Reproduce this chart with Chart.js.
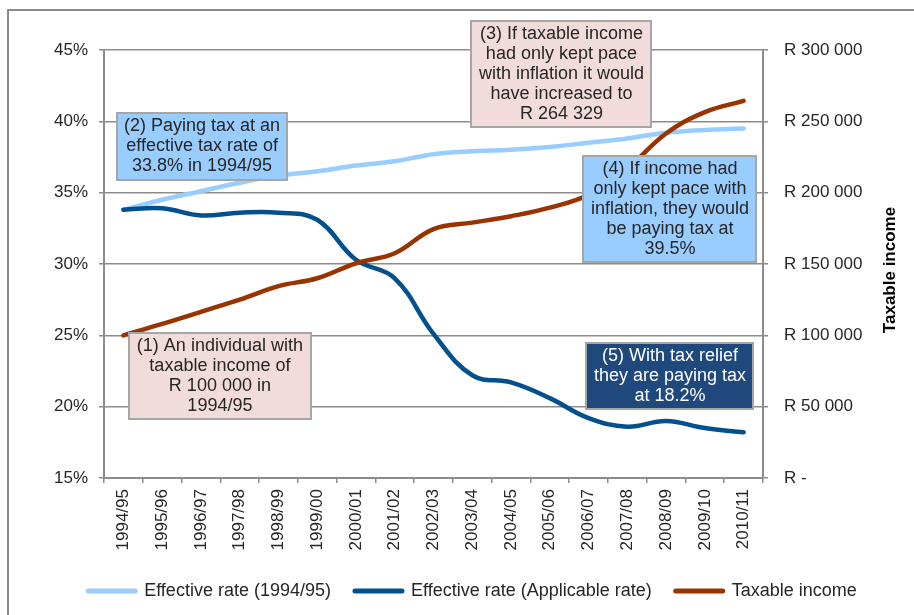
<!DOCTYPE html>
<html>
<head>
<meta charset="utf-8">
<script src="https://cdn.jsdelivr.net/npm/chart.js@4.4.1/dist/chart.umd.min.js"></script>
<style>
  html, body { margin: 0; padding: 0; background: #fff; overflow: hidden; }
  #wrap { position: relative; width: 914px; height: 615px; }
  #frame { position: absolute; left: 7px; top: 9px; width: 1000px; height: 700px; border: 2px solid #8c8c8c; }
  #chart { position: absolute; left: 0; top: 0; }
</style>
</head>
<body>
<div id="wrap">
  <div id="frame"></div>
  <canvas id="chart" width="914" height="615"></canvas>
</div>
<script>
const years = ['1994/95', '1995/96', '1996/97', '1997/98', '1998/99', '1999/00', '2000/01', '2001/02',
    '2002/03', '2003/04', '2004/05', '2005/06', '2006/07', '2007/08', '2008/09', '2009/10', '2010/11'];

const rateBase = [33.8, 34.5, 35.1, 35.7, 36.2, 36.5, 36.9, 37.2, 37.7, 37.9, 38.0, 38.2, 38.5, 38.8, 39.2, 39.4, 39.5];
const rateApplicable = [33.8, 33.9, 33.4, 33.6, 33.6, 33.1, 30.3, 29.0, 25.1, 22.2, 21.7, 20.6, 19.2, 18.6, 19.0, 18.5, 18.2];
const taxableIncome = [100000, 108000, 116500, 125000, 134500, 140000, 150500, 157500, 174500, 179000, 183500,
    189500, 198500, 217000, 241500, 256500, 264329];

const seriesNames = ['Effective rate (1994/95)', 'Effective rate (Applicable rate)', 'Taxable income'];
const rightAxisTitle = 'Taxable income';

// call-out boxes, anchored on category index / left axis value
const notes = [
    { lines: ['(1) An individual with', 'taxable income of', 'R 100 000 in', '1994/95'],
      at: [2.49, 22.14], w: 182, h: 86, fill: '#F2DCDB', color: '#262626' },
    { lines: ['(2) Paying tax at an', 'effective tax rate of', '33.8% in 1994/95'],
      at: [2.03, 38.24], w: 170, h: 67, fill: '#99CCFF', color: '#262626' },
    { lines: ['(3) If taxable income', 'had only kept pace', 'with inflation it would', 'have increased to', 'R 264 329'],
      at: [11.30, 43.29], w: 180, h: 106, fill: '#F2DCDB', color: '#262626' },
    { lines: ['(4) If income had', 'only kept pace with', 'inflation, they would', 'be paying tax at', '39.5%'],
      at: [14.10, 33.83], w: 173, h: 106, fill: '#99CCFF', color: '#262626' },
    { lines: ['(5) With tax relief', 'they are paying tax', 'at 18.2%'],
      at: [14.10, 22.16], w: 167, h: 66, fill: '#1F497D', color: '#ffffff' }
];

const FONT = '"Liberation Sans", Arial, sans-serif';
const GRID = '#8c8c8c';

function formatRand(v) {
    if (v === 0) return 'R -';
    const s = String(v).replace(/\B(?=(\d{3})+(?!\d))/g, ' ');
    return 'R ' + s;
}

const notesPlugin = {
    id: 'notes',
    afterDatasetsDraw(chart) {
        const { ctx, scales: { x, y } } = chart;
        ctx.save();
        ctx.font = '18px ' + FONT;
        ctx.textAlign = 'center';
        ctx.textBaseline = 'middle';
        notes.forEach(n => {
            const cx = x.getPixelForValue(n.at[0]);
            const cy = y.getPixelForValue(n.at[1]);
            const left = Math.round(cx - n.w / 2);
            const top = Math.round(cy - n.h / 2);
            ctx.fillStyle = n.fill;
            ctx.fillRect(left, top, n.w, n.h);
            ctx.strokeStyle = '#a6a6a6';
            ctx.lineWidth = 2;
            ctx.strokeRect(left, top, n.w, n.h);
            ctx.fillStyle = n.color;
            const lh = 20;
            const start = cy - (n.lines.length - 1) * lh / 2;
            n.lines.forEach((t, i) => ctx.fillText(t, cx, start + i * lh));
        });
        ctx.restore();
    },
    afterDraw(chart) {
        const { ctx, chartArea } = chart;
        ctx.save();
        ctx.font = 'bold 17px ' + FONT;
        ctx.fillStyle = '#000';
        ctx.textAlign = 'center';
        ctx.textBaseline = 'middle';
        ctx.translate(890, (chartArea.top + chartArea.bottom) / 2 + 6);
        ctx.rotate(-Math.PI / 2);
        ctx.fillText(rightAxisTitle, 0, 0);
        ctx.restore();
    }
};

const ctx = document.getElementById('chart').getContext('2d');

new Chart(ctx, {
    type: 'line',
    data: {
        labels: years,
        datasets: [{
            label: seriesNames[0],
            data: rateBase,
            yAxisID: 'y',
            borderColor: '#99CCFF',
            order: 3
        }, {
            label: seriesNames[1],
            data: rateApplicable,
            yAxisID: 'y',
            borderColor: '#02518E',
            order: 2
        }, {
            label: seriesNames[2],
            data: taxableIncome,
            yAxisID: 'y1',
            borderColor: '#993300',
            order: 1
        }]
    },
    options: {
        responsive: false,
        animation: false,
        devicePixelRatio: 1,
        layout: { padding: { left: 31, right: 0, top: 50, bottom: 5 } },
        elements: {
            line: { borderWidth: 4.5, tension: 0.4, borderCapStyle: 'round', borderJoinStyle: 'round', fill: false },
            point: { radius: 0, hoverRadius: 0, pointStyle: 'line', borderWidth: 4.5 }
        },
        plugins: {
            tooltip: { enabled: false },
            legend: {
                position: 'bottom',
                labels: {
                    usePointStyle: true,
                    pointStyleWidth: 47,
                    padding: 24,
                    color: '#262626',
                    font: { size: 18, family: FONT },
                    sort: (a, b) => a.datasetIndex - b.datasetIndex,
                    generateLabels(chart) {
                        const items = Chart.defaults.plugins.legend.labels.generateLabels(chart);
                        items.forEach(it => { it.lineWidth = 5; it.lineCap = 'round'; it.pointStyle = 'line'; });
                        return items;
                    }
                }
            }
        },
        scales: {
            x: {
                offset: true,
                grid: { display: true, drawOnChartArea: false, offset: true, color: GRID, tickLength: 5, lineWidth: 1.5 },
                border: { color: GRID, width: 2 },
                ticks: {
                    maxRotation: 90, minRotation: 90, autoSkip: false, padding: 6,
                    color: '#262626', font: { size: 17, family: FONT }
                },
                afterFit(scale) { scale.height = 80; }
            },
            y: {
                position: 'left',
                min: 15, max: 45,
                grid: { color: GRID, lineWidth: 1.5, tickLength: 5 },
                border: { color: GRID, width: 2 },
                ticks: {
                    stepSize: 5, padding: 11,
                    color: '#262626', font: { size: 17, family: FONT },
                    callback: v => v + '%'
                },
                afterFit(scale) { scale.width = 73; }
            },
            y1: {
                position: 'right',
                min: 0, max: 300000,
                grid: { drawOnChartArea: false, color: GRID, lineWidth: 1.5, tickLength: 5 },
                border: { color: GRID, width: 2 },
                ticks: {
                    stepSize: 50000, padding: 16,
                    color: '#262626', font: { size: 17, family: FONT },
                    callback: v => formatRand(v)
                },
                afterFit(scale) { scale.width = 151; }
            }
        }
    },
    plugins: [notesPlugin]
});
</script>
</body>
</html>
